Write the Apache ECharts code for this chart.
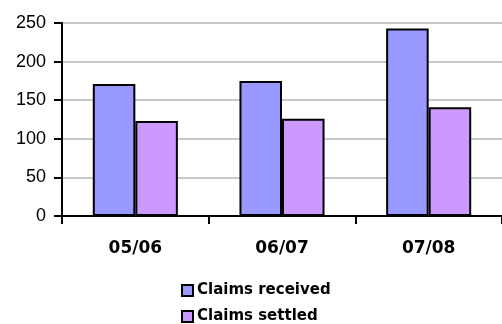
<!DOCTYPE html>
<html>
<head>
<meta charset="utf-8">
<script src="https://cdn.jsdelivr.net/npm/echarts@6/dist/echarts.min.js"></script>
<style>
  html, body { margin: 0; padding: 0; background: #fff; }
  #chart { width: 502px; height: 324px; }
</style>
</head>
<body>
<div id="chart"></div>
<script>
// Financial years on the category axis
const years = ['05/06', '06/07', '07/08'];
// Number of claims per year
const claimsReceived = [171, 175, 243];
const claimsSettled = [123, 126, 141];
// Value axis ticks
const yTicks = [0, 50, 100, 150, 200, 250];

const chart = echarts.init(document.getElementById('chart'), null, { renderer: 'canvas' });

chart.setOption({
  animation: false,
  backgroundColor: '#ffffff',
  grid: { left: 62, right: 0, top: 23, bottom: 108, containLabel: false },
  legend: {
    orient: 'vertical',
    left: 181,
    top: 283,
    height: 80,
    padding: 0,
    itemWidth: 11,
    itemHeight: 11,
    itemGap: 11,
    icon: 'rect',
    textStyle: { fontFamily: 'DejaVu Sans', fontWeight: 'bold', fontSize: 15, color: '#000', padding: [0, 0, 0, -1] },
    data: ['Claims received', 'Claims settled']
  },
  xAxis: {
    type: 'category',
    data: years,
    axisLine: { lineStyle: { color: '#000', width: 2 } },
    axisTick: { show: true, length: 8, lineStyle: { color: '#000', width: 2 } },
    axisLabel: { margin: 24, fontFamily: 'DejaVu Sans', fontWeight: 'bold', fontSize: 17, color: '#000' },
    splitLine: { show: false }
  },
  yAxis: {
    type: 'value',
    min: yTicks[0],
    max: yTicks[yTicks.length - 1],
    interval: yTicks[1] - yTicks[0],
    axisLine: { show: true, lineStyle: { color: '#000', width: 2 } },
    axisTick: { show: true, length: 8, lineStyle: { color: '#000', width: 2 } },
    axisLabel: { margin: 16, fontFamily: 'Liberation Sans', fontSize: 18, color: '#000' },
    splitLine: { show: true, lineStyle: { color: '#c8c8c8', width: 2 } }
  },
  series: [
    {
      name: 'Claims received',
      type: 'bar',
      data: claimsReceived,
      barGap: '0%',
      barCategoryGap: '42%',
      itemStyle: { color: '#9999ff', borderColor: '#000', borderWidth: 2 }
    },
    {
      name: 'Claims settled',
      type: 'bar',
      data: claimsSettled,
      barGap: '0%',
      barCategoryGap: '42%',
      itemStyle: { color: '#cc99ff', borderColor: '#000', borderWidth: 2 }
    }
  ]
});
</script>
</body>
</html>
